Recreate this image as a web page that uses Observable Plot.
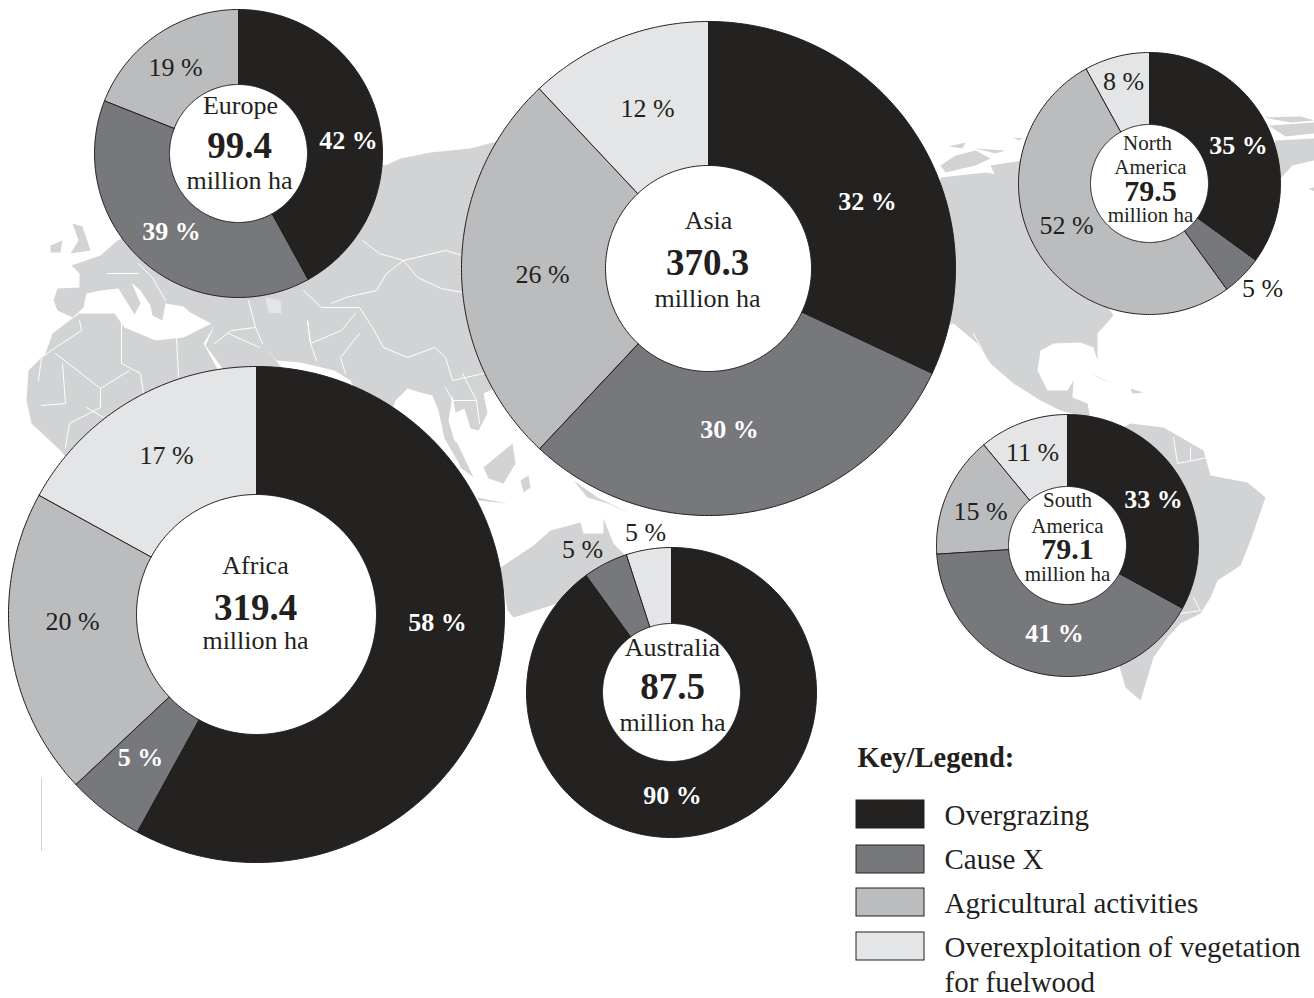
<!DOCTYPE html>
<html>
<head>
<meta charset="utf-8">
<script src="https://cdn.jsdelivr.net/npm/d3@7"></script>
<script src="https://cdn.jsdelivr.net/npm/@observablehq/plot@0.6"></script>
<style>
html,body{margin:0;padding:0;background:#fff}
svg{display:block;font-family:"Liberation Serif",serif}
</style>
</head>
<body>
<div id="chart"></div>
<script>
// ---- values ----
const causes = ["Overgrazing", "Cause X", "Agricultural activities", "Overexploitation of vegetation"];
const causeColors = ["#232220", "#77787b", "#bbbcbe", "#e4e5e7"];
const continents = ["Europe", "Asia", "Africa", "Australia", "North America", "South America"];
const totals = [99.4, 370.3, 319.4, 87.5, 79.5, 79.1];
const overgrazing = [42, 32, 58, 90, 35, 33];
const causeX = [39, 30, 5, 5, 5, 41];
const agricultural = [19, 26, 20, 0, 52, 15];
const fuelwood = [0, 12, 17, 5, 8, 11];
const shares = [overgrazing, causeX, agricultural, fuelwood];

// ---- layout ----
const W = 1314, H = 998;
const centreX = [238, 708, 256, 671, 1149, 1067];
const centreY = [153, 268, 614, 692, 183, 545];
const outerR = [144, 247, 248, 145, 131, 131];
const innerR = [69, 103, 120, 69, 59, 59];

// [continent, cause, x, baseline, on-dark]
const shareLabels = [
  [0,0,348,148,1],[0,1,171,239,1],[0,2,175,75,0],
  [1,0,867,209,1],[1,1,729,437,1],[1,2,542,282,0],[1,3,647,116,0],
  [2,0,437,630,1],[2,1,140,765,1],[2,2,72,629,0],[2,3,166,463,0],
  [3,0,672,803,1],[3,1,582,557,0],[3,3,645,540,0],
  [4,0,1238,153,1],[4,1,1262,296,0],[4,2,1066,233,0],[4,3,1123,89,0],
  [5,0,1153,507,1],[5,1,1054,641,1],[5,2,980,519,0],[5,3,1032,460,0]
];
// [text, x, baseline, size]
const nameLabels = [
  ["Europe",240,113,26],["Asia",708,228,26],["Africa",255,573,26],["Australia",672,655,26],
  ["North",1147,149,21],["America",1150,173,21],["South",1067,506,21],["America",1067,532,21]
];
const totalLabels = [
  [0,239,157,37],[1,707,274,37],[2,255,619,37],[3,672,698,37],[4,1150,200,30],[5,1067,558,30]
];
const unitLabels = [
  [239,188,26],[707,306,26],[255,648,26],[672,730,26],[1150,221,21],[1067,580,21]
];

// background map outlines
const landShapes = [
  [[124,237],[200,180],[330,150],[385,165],[400,158],[430,152],[470,148],[500,140],[620,150],[800,280],[600,420],[500,385],[483,393],[487,413],[478,430],[470,428],[464,408],[455,412],[452,395],[448,420],[456,448],[466,466],[458,462],[444,438],[438,410],[432,395],[420,392],[407,388],[395,400],[375,450],[360,400],[350,380],[334,370],[300,362],[276,360],[262,343],[285,372],[225,372],[205,345],[214,325],[190,312],[183,306],[165,303],[162,320],[152,315],[150,305],[140,290],[131,282],[140,303],[134,314],[118,288],[100,290],[86,293],[83,307],[72,317],[57,310],[53,300],[57,288],[79,287],[79,273],[71,265],[100,255],[117,240]],
  [[72,223],[82,226],[90,250],[70,253],[78,240]],
  [[50,245],[62,240],[60,252],[50,252]],
  [[69,320],[79,313],[114,313],[124,327],[155,340],[183,337],[217,320],[203,343],[214,363],[235,400],[150,560],[60,450],[31,423],[26,400],[28,370],[45,353],[52,333]],
  [[483,467],[512,443],[515,463],[503,483],[488,478]],
  [[520,480],[528,475],[530,487],[523,492]],
  [[447,433],[457,443],[473,477],[460,467]],
  [[477,497],[507,503],[478,500]],
  [[573,480],[597,497],[630,513],[607,503],[587,497]],
  [[500,567],[533,545],[550,530],[580,522],[583,533],[603,533],[603,518],[613,543],[625,555],[650,650],[560,640],[557,603],[513,617],[507,610],[503,587]],
  [[940,177],[985,172],[1020,178],[1113,315],[1097,333],[1097,360],[1093,347],[1080,342],[1053,343],[1040,350],[1037,370],[1047,390],[1067,390],[1073,380],[1072,397],[1087,403],[1090,418],[1060,410],[1040,400],[1013,383],[990,363],[977,343],[953,323],[930,330]],
  [[940,165],[955,155],[975,150],[990,158],[975,165],[945,172]],
  [[948,146],[965,142],[962,148]],
  [[975,148],[1005,150],[995,153]],
  [[1013,137],[1023,138],[1018,140]],
  [[990,165],[1022,160],[1022,185],[995,176]],
  [[1090,373],[1113,383],[1100,378]],
  [[1130,388],[1143,392],[1132,393]],
  [[1263,117],[1300,116],[1314,120],[1290,122]],
  [[1268,125],[1314,122],[1314,133],[1285,136]],
  [[1275,140],[1314,138],[1314,160],[1292,165],[1280,178],[1265,180]],
  [[1308,188],[1314,187],[1314,191]],
  [[1130,423],[1163,427],[1203,450],[1210,475],[1247,482],[1265,497],[1250,540],[1240,565],[1217,580],[1210,597],[1200,613],[1180,623],[1167,637],[1153,657],[1140,700],[1125,687],[1100,600],[1080,450]]
];
const borderLines = [
  [[362,240],[379,253],[403,260],[445,250],[462,255]],
  [[403,260],[417,277],[441,288],[462,292]],
  [[403,260],[386,273],[376,290],[345,297],[331,303]],
  [[303,290],[321,307],[359,307],[372,327],[383,347],[407,357],[434,347],[445,357],[452,380],[483,373]],
  [[307,320],[310,343],[341,330],[355,313]],
  [[248,300],[255,327],[262,343]],
  [[307,320],[310,343],[316,360]],
  [[359,333],[340,357],[345,373]],
  [[214,343],[231,330],[255,327]],
  [[228,333],[259,347]],
  [[176,337],[178,377]],
  [[121,320],[121,363],[140,373],[143,393]],
  [[79,320],[81,330],[55,347],[41,357],[38,380]],
  [[55,353],[100,388],[129,370]],
  [[62,363],[65,403],[41,405]],
  [[100,388],[100,407],[69,423],[65,447]],
  [[86,407],[103,417]],
  [[107,273],[138,273]],
  [[138,263],[152,277],[165,300]],
  [[445,387],[452,400],[476,400]],
  [[462,373],[476,400],[479,423]],
  [[1173,437],[1177,463],[1207,457]],
  [[1190,447],[1190,460]],
  [[1193,597],[1200,610],[1180,613]],
  [[973,333],[982,350],[990,366]]
];
const caspian = [[265,297],[280,300],[281,313],[268,312]];
const strayRule = [41];

// legend
const legendTitle = "Key/Legend:";
const legendLabels = ["Overgrazing", "Cause X", "Agricultural activities", "Overexploitation of vegetation", "for fuelwood"];
const legendBaselines = [824, 868, 912, 956, 991];
const swatchTops = [800, 845, 888, 932];

// ---- derived tables ----
const sliceVertices = [];
continents.forEach((name, c) => {
  let cum = 0;
  causes.forEach((cause, k) => {
    const v = shares[k][c];
    if (v > 0) {
      const a0 = cum / 100 * 2 * Math.PI, a1 = (cum + v) / 100 * 2 * Math.PI;
      const n = Math.max(2, Math.ceil(v * 4));
      const id = name + "-" + cause;
      const at = (r, a) => ({id, cause, x: centreX[c] + r * Math.sin(a), y: centreY[c] - r * Math.cos(a)});
      for (let i = 0; i <= n; i++) sliceVertices.push(at(outerR[c], a0 + (a1 - a0) * i / n));
      for (let i = n; i >= 0; i--) sliceVertices.push(at(innerR[c], a0 + (a1 - a0) * i / n));
    }
    cum += v;
  });
});
const toRows = (shapes) => shapes.flatMap((s, i) => s.map(([x, y]) => ({i, x, y})));
const holes = continents.map((name, c) => ({x: centreX[c], y: centreY[c], r: innerR[c]}));
const shareRows = shareLabels.map(([c, k, x, y, dark]) => ({text: `${shares[k][c]} %`, x, y, dark}));
const swatches = swatchTops.map((y1, k) => ({cause: causes[k], y1, y2: y1 + 28}));

const ink = "#231f20", land = "#d1d3d4";
const base = {textAnchor: "middle", lineAnchor: "bottom", fontFamily: "Liberation Serif"};

const chart = Plot.plot({
  width: W, height: H, margin: 0,
  style: {background: "#fff", fontFamily: "Liberation Serif"},
  x: {domain: [0, W], range: [0, W], axis: null},
  y: {domain: [0, H], range: [0, H], axis: null},
  color: {domain: causes, range: causeColors},
  r: {type: "identity"},
  marks: [
    Plot.line(toRows(landShapes), {x: "x", y: "y", z: "i", fill: land, stroke: "none", curve: "linear-closed"}),
    Plot.line(caspian, {x: d => d[0], y: d => d[1], fill: "#e4e5e7", stroke: "none", curve: "linear-closed"}),
    Plot.line(toRows(borderLines), {x: "x", y: "y", z: "i", stroke: "#fff", strokeWidth: 1}),
    Plot.ruleX(strayRule, {x: d => d, y1: 778, y2: 851, stroke: land, strokeWidth: 1}),
    Plot.dot(holes, {x: "x", y: "y", r: "r", fill: "#fff", stroke: "none"}),
    Plot.line(sliceVertices, {x: "x", y: "y", z: "id", fill: "cause", stroke: ink, strokeWidth: 1, curve: "linear-closed", strokeLinejoin: "round"}),
    Plot.text(shareRows.filter(d => d.dark), {...base, x: "x", y: "y", text: "text", fill: "#fff", fontWeight: "bold", fontSize: 26}),
    Plot.text(shareRows.filter(d => !d.dark), {...base, x: "x", y: "y", text: "text", fill: ink, fontSize: 26}),
    Plot.text(nameLabels.filter(d => d[3] === 26), {...base, x: d => d[1], y: d => d[2], text: d => d[0], fill: ink, fontSize: 26}),
    Plot.text(nameLabels.filter(d => d[3] === 21), {...base, x: d => d[1], y: d => d[2], text: d => d[0], fill: ink, fontSize: 21}),
    Plot.text(totalLabels.filter(d => d[3] === 37), {...base, x: d => d[1], y: d => d[2], text: d => totals[d[0]].toFixed(1), fill: ink, fontWeight: "bold", fontSize: 37}),
    Plot.text(totalLabels.filter(d => d[3] === 30), {...base, x: d => d[1], y: d => d[2], text: d => totals[d[0]].toFixed(1), fill: ink, fontWeight: "bold", fontSize: 30}),
    Plot.text(unitLabels.filter(d => d[2] === 26), {...base, x: d => d[0], y: d => d[1], text: () => "million ha", fill: ink, fontSize: 26}),
    Plot.text(unitLabels.filter(d => d[2] === 21), {...base, x: d => d[0], y: d => d[1], text: () => "million ha", fill: ink, fontSize: 21}),
    Plot.text([legendTitle], {textAnchor: "start", lineAnchor: "bottom", x: () => 857, y: () => 766, text: d => d, fill: ink, fontWeight: "bold", fontSize: 28.5}),
    Plot.rect(swatches, {x1: () => 856, x2: () => 924, y1: "y1", y2: "y2", fill: "cause", stroke: ink, strokeWidth: 1}),
    Plot.text(legendLabels, {textAnchor: "start", lineAnchor: "bottom", x: () => 944, y: (d, i) => legendBaselines[i], text: d => d, fill: ink, fontSize: 29})
  ]
});
document.getElementById("chart").append(chart);
</script>
</body>
</html>
